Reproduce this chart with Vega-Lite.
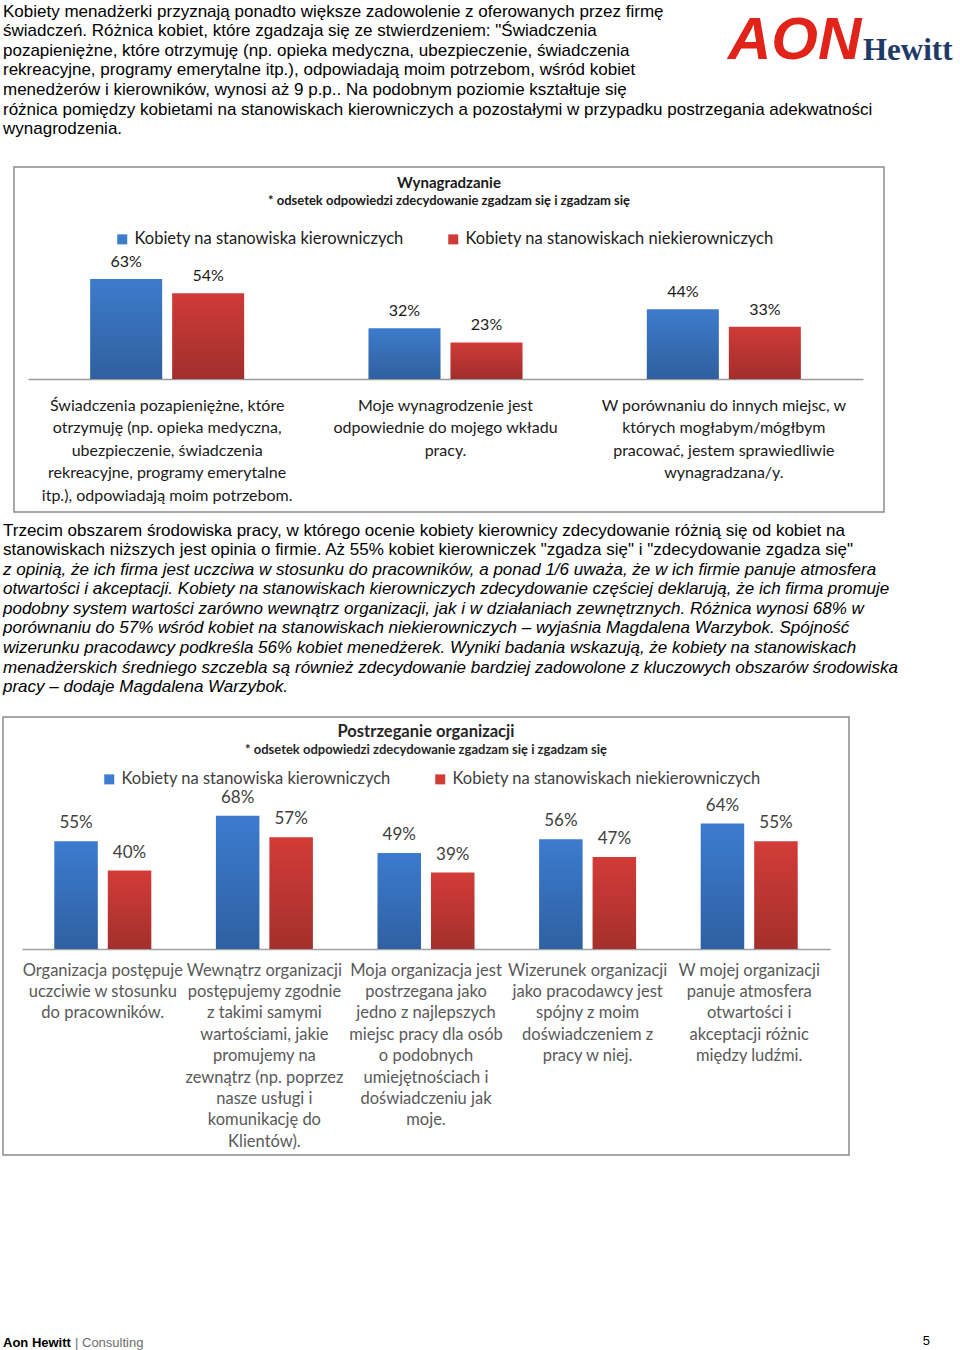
{
  "$schema": "https://vega.github.io/schema/vega-lite/v6.json",
  "background": "white",
  "padding": {"left": 2, "top": 0, "right": 0, "bottom": 0},
  "spacing": 0,
  "config": {"view": {"stroke": null}},
  "resolve": {
    "scale": {"color": "independent", "x": "independent", "y": "independent", "xOffset": "independent"},
    "legend": {"color": "independent"}
  },
  "datasets": {
    "wyn": [
      {"category": "Świadczenia pozapieniężne, które|otrzymuję (np. opieka medyczna,|ubezpieczenie, świadczenia|rekreacyjne, programy emerytalne|itp.), odpowiadają moim potrzebom.", "series": "Kobiety na stanowiska kierowniczych", "value": 0.63},
      {"category": "Świadczenia pozapieniężne, które|otrzymuję (np. opieka medyczna,|ubezpieczenie, świadczenia|rekreacyjne, programy emerytalne|itp.), odpowiadają moim potrzebom.", "series": "Kobiety na stanowiskach niekierowniczych", "value": 0.54},
      {"category": "Moje wynagrodzenie jest|odpowiednie do mojego wkładu|pracy.", "series": "Kobiety na stanowiska kierowniczych", "value": 0.32},
      {"category": "Moje wynagrodzenie jest|odpowiednie do mojego wkładu|pracy.", "series": "Kobiety na stanowiskach niekierowniczych", "value": 0.23},
      {"category": "W porównaniu do innych miejsc, w|których mogłabym/mógłbym|pracować, jestem sprawiedliwie|wynagradzana/y.", "series": "Kobiety na stanowiska kierowniczych", "value": 0.44},
      {"category": "W porównaniu do innych miejsc, w|których mogłabym/mógłbym|pracować, jestem sprawiedliwie|wynagradzana/y.", "series": "Kobiety na stanowiskach niekierowniczych", "value": 0.33}
    ],
    "org": [
      {"category": "Organizacja postępuje|uczciwie w stosunku|do pracowników.", "series": "Kobiety na stanowiska kierowniczych", "value": 0.55},
      {"category": "Organizacja postępuje|uczciwie w stosunku|do pracowników.", "series": "Kobiety na stanowiskach niekierowniczych", "value": 0.40},
      {"category": "Wewnątrz organizacji|postępujemy zgodnie|z takimi samymi|wartościami, jakie|promujemy na|zewnątrz (np. poprzez|nasze usługi i|komunikację do|Klientów).", "series": "Kobiety na stanowiska kierowniczych", "value": 0.68},
      {"category": "Wewnątrz organizacji|postępujemy zgodnie|z takimi samymi|wartościami, jakie|promujemy na|zewnątrz (np. poprzez|nasze usługi i|komunikację do|Klientów).", "series": "Kobiety na stanowiskach niekierowniczych", "value": 0.57},
      {"category": "Moja organizacja jest|postrzegana jako|jedno z najlepszych|miejsc pracy dla osób|o podobnych|umiejętnościach i|doświadczeniu jak|moje.", "series": "Kobiety na stanowiska kierowniczych", "value": 0.49},
      {"category": "Moja organizacja jest|postrzegana jako|jedno z najlepszych|miejsc pracy dla osób|o podobnych|umiejętnościach i|doświadczeniu jak|moje.", "series": "Kobiety na stanowiskach niekierowniczych", "value": 0.39},
      {"category": "Wizerunek organizacji|jako pracodawcy jest|spójny z moim|doświadczeniem z|pracy w niej.", "series": "Kobiety na stanowiska kierowniczych", "value": 0.56},
      {"category": "Wizerunek organizacji|jako pracodawcy jest|spójny z moim|doświadczeniem z|pracy w niej.", "series": "Kobiety na stanowiskach niekierowniczych", "value": 0.47},
      {"category": "W mojej organizacji|panuje atmosfera|otwartości i|akceptacji różnic|między ludźmi.", "series": "Kobiety na stanowiska kierowniczych", "value": 0.64},
      {"category": "W mojej organizacji|panuje atmosfera|otwartości i|akceptacji różnic|między ludźmi.", "series": "Kobiety na stanowiskach niekierowniczych", "value": 0.55}
    ]
  },
  "vconcat": [
    {
      "spacing": 0,
      "hconcat": [
        {
          "width": 725, "height": 100,
          "data": {"values": [{}]},
          "mark": {"type": "text", "text": ""},
          "encoding": {},
          "title": {
            "text": [
              "Kobiety menadżerki przyznają ponadto większe zadowolenie z oferowanych przez firmę",
              "świadczeń. Różnica kobiet, które zgadzaja się ze stwierdzeniem: \"Świadczenia",
              "pozapieniężne, które otrzymuję (np. opieka medyczna, ubezpieczenie, świadczenia",
              "rekreacyjne, programy emerytalne itp.), odpowiadają moim potrzebom, wśród kobiet",
              "menedżerów i kierowników, wynosi aż 9 p.p.. Na podobnym poziomie kształtuje się"
            ],
            "orient": "bottom", "anchor": "start", "frame": "group", "offset": -96.5,
            "font": "Liberation Sans", "fontSize": 17, "fontWeight": "normal", "color": "#000000", "lineHeight": 19.6
          }
        },
        {
          "spacing": 1,
          "hconcat": [
            {
              "width": 1, "height": 100,
              "data": {"values": [{}]},
              "mark": {"type": "text", "text": ""},
              "encoding": {},
              "title": {
                "text": "AON", "orient": "bottom", "anchor": "start", "frame": "group", "offset": -88,
                "font": "Liberation Sans", "fontSize": 60, "fontWeight": "bold", "fontStyle": "italic", "color": "#E2231A"
              }
            },
            {
              "width": 1, "height": 100,
              "data": {"values": [{}]},
              "mark": {"type": "text", "text": ""},
              "encoding": {},
              "title": {
                "text": "Hewitt", "orient": "bottom", "anchor": "start", "frame": "group", "offset": -64.5,
                "font": "Liberation Serif", "fontSize": 31, "fontWeight": "bold", "color": "#1F3A68"
              }
            }
          ]
        }
      ]
    },
    {
      "width": 958, "height": 66,
      "data": {"values": [{}]},
      "mark": {"type": "text", "text": ""},
      "encoding": {},
      "title": {
        "text": [
          "różnica pomiędzy kobietami na stanowiskach kierowniczych a pozostałymi w przypadku postrzegania adekwatności",
          "wynagrodzenia."
        ],
        "orient": "bottom", "anchor": "start", "frame": "group", "offset": -64.5,
        "font": "Liberation Sans", "fontSize": 17, "fontWeight": "normal", "color": "#000000", "lineHeight": 19.6
      }
    },
    {
      "spacing": 4,
      "resolve": {"scale": {"color": "independent"}, "legend": {"color": "independent"}},
      "hconcat": [
        {
          "width": 6, "height": 345,
          "data": {"values": [{}]},
          "mark": {"type": "text", "text": ""},
          "encoding": {}
        },
        {
          "width": 870, "height": 345,
          "view": {"stroke": "#8c8c8c", "strokeWidth": 1.5},
          "data": {"name": "wyn"},
          "title": {
            "text": "Wynagradzanie",
            "subtitle": "* odsetek odpowiedzi zdecydowanie zgadzam się i zgadzam się",
            "orient": "top", "anchor": "middle", "frame": "group", "offset": -40.5,
            "font": "Lato", "fontSize": 15, "fontWeight": "bold", "color": "#1a1a1a",
            "subtitleFont": "Lato", "subtitleFontSize": 13, "subtitleFontWeight": "bold", "subtitleColor": "#1a1a1a", "subtitlePadding": 4
          },
          "encoding": {
            "x": {
              "field": "category", "type": "nominal", "sort": null,
              "scale": {"range": [14, 849], "paddingInner": 0, "paddingOuter": 0},
              "axis": {
                "orient": "bottom", "offset": -133, "title": null, "grid": false,
                "domainColor": "#9a9a9a", "domainWidth": 1.5, "ticks": false, "tickSize": 0,
                "labelPadding": 18, "labelAngle": 0, "labelAlign": "center", "labelBaseline": "top",
                "labelFont": "Lato", "labelFontSize": 16, "labelColor": "#1a1a1a", "labelLineHeight": 22.6,
                "labelLimit": 400, "labelExpr": "split(datum.label, '|')"
              }
            },
            "xOffset": {
              "field": "series", "type": "nominal",
              "scale": {"domain": ["Kobiety na stanowiska kierowniczych", "Kobiety na stanowiskach niekierowniczych"], "paddingInner": 0.122, "paddingOuter": 0.758}
            },
            "y": {
              "field": "value", "type": "quantitative",
              "scale": {"domain": [0, 1], "range": [212, 53.3], "nice": false},
              "axis": null
            }
          },
          "layer": [
            {
              "mark": {"type": "bar"},
              "encoding": {
                "color": {
                  "field": "series", "type": "nominal",
                  "scale": {"domain": ["Kobiety na stanowiska kierowniczych", "Kobiety na stanowiskach niekierowniczych"], "range": ["#3D7BCB", "#CF3B38"]},
                  "legend": {
                    "orient": "none", "legendX": 100, "legendY": 64, "direction": "horizontal", "title": null, "padding": 0,
                    "symbolType": "square", "symbolSize": 100, "symbolStrokeWidth": 0,
                    "labelFont": "Lato", "labelFontSize": 16.5, "labelColor": "#1a1a1a", "labelOffset": 4,
                    "columnPadding": 41, "labelLimit": 400
                  }
                }
              }
            },
            {
              "mark": {"type": "bar", "fill": {"gradient": "linear", "x1": 0, "y1": 0, "x2": 0, "y2": 1, "stops": [{"offset": 0, "color": "rgba(0,0,0,0)"}, {"offset": 1, "color": "rgba(0,0,0,0.22)"}]}}
            },
            {
              "mark": {"type": "text", "baseline": "middle", "dy": -17, "font": "Lato", "fontSize": 16, "color": "#1a1a1a"},
              "encoding": {"text": {"field": "value", "type": "quantitative", "format": ".0%"}}
            }
          ]
        }
      ]
    },
    {
      "width": 958, "height": 203,
      "data": {"values": [{}]},
      "mark": {"type": "text", "text": ""},
      "encoding": {},
      "title": {
        "text": [
          "Trzecim obszarem środowiska pracy, w którego ocenie kobiety kierownicy zdecydowanie różnią się od kobiet na",
          "stanowiskach niższych jest opinia o firmie. Aż 55% kobiet kierowniczek \"zgadza się\" i \"zdecydowanie zgadza się\""
        ],
        "subtitle": [
          "z opinią, że ich firma jest uczciwa w stosunku do pracowników, a ponad 1/6 uważa, że w ich firmie panuje atmosfera",
          "otwartości i akceptacji. Kobiety na stanowiskach kierowniczych zdecydowanie częściej deklarują, że ich firma promuje",
          "podobny system wartości zarówno wewnątrz organizacji, jak i w działaniach zewnętrznych. Różnica wynosi 68% w",
          "porównaniu do 57% wśród kobiet na stanowiskach niekierowniczych – wyjaśnia Magdalena Warzybok. Spójność",
          "wizerunku pracodawcy podkreśla 56% kobiet menedżerek. Wyniki badania wskazują, że kobiety na stanowiskach",
          "menadżerskich średniego szczebla są również zdecydowanie bardziej zadowolone z kluczowych obszarów środowiska",
          "pracy – dodaje Magdalena Warzybok."
        ],
        "orient": "bottom", "anchor": "start", "frame": "group", "offset": -193.5,
        "font": "Liberation Sans", "fontSize": 17, "fontWeight": "normal", "color": "#000000", "lineHeight": 19.6,
        "subtitleFont": "Liberation Sans", "subtitleFontSize": 17, "subtitleFontStyle": "italic", "subtitleColor": "#000000",
        "subtitleLineHeight": 19.6, "subtitlePadding": 2.6
      }
    },
    {
      "width": 846, "height": 438,
      "view": {"stroke": "#8c8c8c", "strokeWidth": 1.5},
      "data": {"name": "org"},
      "title": {
        "text": "Postrzeganie organizacji",
        "subtitle": "* odsetek odpowiedzi zdecydowanie zgadzam się i zgadzam się",
        "orient": "top", "anchor": "middle", "frame": "group", "offset": -39.5,
        "font": "Lato", "fontSize": 16.5, "fontWeight": "bold", "color": "#262626",
        "subtitleFont": "Lato", "subtitleFontSize": 13, "subtitleFontWeight": "bold", "subtitleColor": "#262626", "subtitlePadding": 3.25
      },
      "encoding": {
        "x": {
          "field": "category", "type": "nominal", "sort": null,
          "scale": {"range": [19, 827], "paddingInner": 0, "paddingOuter": 0},
          "axis": {
            "orient": "bottom", "offset": -206, "title": null, "grid": false,
            "domainColor": "#a0a0a0", "domainWidth": 1.5, "ticks": false, "tickSize": 0,
            "labelPadding": 13, "labelAngle": 0, "labelAlign": "center", "labelBaseline": "top",
            "labelFont": "Lato", "labelFontSize": 16.5, "labelColor": "#595959", "labelLineHeight": 21.4,
            "labelLimit": 400, "labelExpr": "split(datum.label, '|')"
          }
        },
        "xOffset": {
          "field": "series", "type": "nominal",
          "scale": {"domain": ["Kobiety na stanowiska kierowniczych", "Kobiety na stanowiskach niekierowniczych"], "paddingInner": 0.187, "paddingOuter": 0.604}
        },
        "y": {
          "field": "value", "type": "quantitative",
          "scale": {"domain": [0, 1], "range": [232, 36], "nice": false},
          "axis": null
        }
      },
      "layer": [
        {
          "mark": {"type": "bar"},
          "encoding": {
            "color": {
              "field": "series", "type": "nominal",
              "scale": {"domain": ["Kobiety na stanowiska kierowniczych", "Kobiety na stanowiskach niekierowniczych"], "range": ["#3C7BCF", "#D23C38"]},
              "legend": {
                "orient": "none", "legendX": 98, "legendY": 54, "direction": "horizontal", "title": null, "padding": 0,
                "symbolType": "square", "symbolSize": 100, "symbolStrokeWidth": 0,
                "labelFont": "Lato", "labelFontSize": 16.5, "labelColor": "#404040", "labelOffset": 4,
                "columnPadding": 41, "labelLimit": 400
              }
            }
          }
        },
        {
          "mark": {"type": "bar", "fill": {"gradient": "linear", "x1": 0, "y1": 0, "x2": 0, "y2": 1, "stops": [{"offset": 0, "color": "rgba(0,0,0,0)"}, {"offset": 1, "color": "rgba(0,0,0,0.22)"}]}}
        },
        {
          "mark": {"type": "text", "baseline": "middle", "dy": -18, "font": "Lato", "fontSize": 17, "color": "#404040"},
          "encoding": {"text": {"field": "value", "type": "quantitative", "format": ".0%"}}
        }
      ]
    },
    {
      "spacing": 4,
      "hconcat": [
        {
          "width": 1, "height": 198,
          "data": {"values": [{}]},
          "mark": {"type": "text", "text": ""},
          "encoding": {},
          "title": {"text": "Aon Hewitt", "orient": "bottom", "anchor": "start", "frame": "group", "offset": -17.5, "font": "Liberation Sans", "fontSize": 13, "fontWeight": "bold", "color": "#000000"}
        },
        {
          "width": 1, "height": 198,
          "data": {"values": [{}]},
          "mark": {"type": "text", "text": ""},
          "encoding": {},
          "title": {"text": "| Consulting", "orient": "bottom", "anchor": "start", "frame": "group", "offset": -17.5, "font": "Liberation Sans", "fontSize": 13, "fontWeight": "normal", "color": "#6d6d6d"}
        },
        {
          "width": 782, "height": 198,
          "data": {"values": [{}]},
          "mark": {"type": "text", "text": ""},
          "encoding": {},
          "title": {"text": "5", "orient": "bottom", "anchor": "end", "frame": "group", "offset": -19, "font": "Liberation Sans", "fontSize": 13, "fontWeight": "normal", "color": "#000000"}
        }
      ]
    }
  ]
}
